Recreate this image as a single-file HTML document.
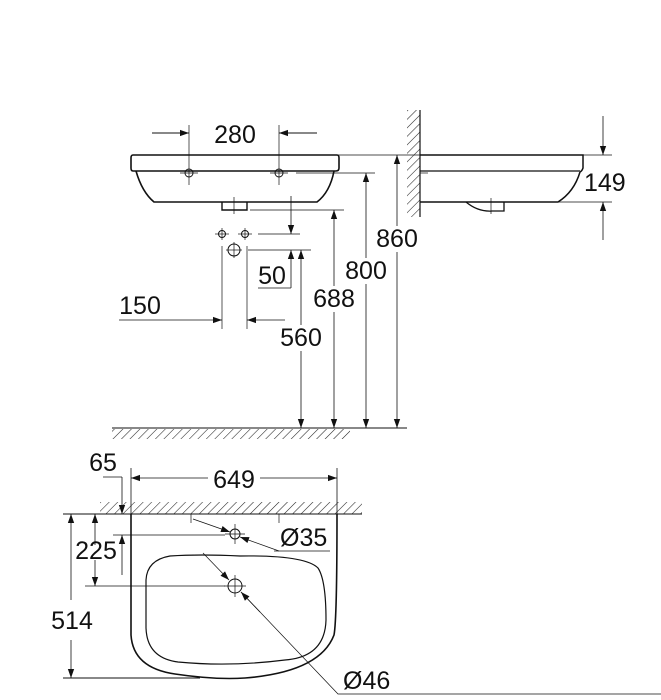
<!DOCTYPE html>
<html><head><style>
html,body{margin:0;padding:0;background:#fff;}
svg{display:block}
text{font-family:"Liberation Sans",sans-serif;fill:#111;}
</style></head><body>
<svg width="661" height="700" viewBox="0 0 661 700" xmlns="http://www.w3.org/2000/svg">
<defs>
<pattern id="h" width="6" height="6" patternUnits="userSpaceOnUse" patternTransform="rotate(45)">
<line x1="0" y1="0" x2="0" y2="6" stroke="#222" stroke-width="1.1"/>
</pattern>
<marker id="a" viewBox="0 0 10 10" refX="10" refY="5" markerWidth="16" markerHeight="9" markerUnits="userSpaceOnUse" orient="auto-start-reverse">
<path d="M0,1.5 L10,5 L0,8.5 z" fill="#111"/>
</marker>
</defs>
<g stroke="#111" fill="none" stroke-width="1">
<path d="M133,155 H337 Q339,155 339,158 V168 Q339,171 336,171 H133 Q131,171 131,168 V158 Q131,155 133,155 Z" stroke-width="1.6"/>
<path d="M136,171 Q142,192 154,202 H317 Q330,192 334,171" stroke-width="1.6"/>
<path d="M222,202 V210 H247 V202" stroke-width="1.4"/>
<line x1="234" y1="197" x2="234" y2="214" stroke-width="0.7"/>
<circle cx="189" cy="173" r="4"/><line x1="180" y1="173" x2="198" y2="173" stroke-width="0.7"/>
<circle cx="279" cy="173" r="4"/><line x1="270" y1="173" x2="288" y2="173" stroke-width="0.7"/>
<line x1="189" y1="125" x2="189" y2="185" stroke-width="0.7"/>
<line x1="279" y1="125" x2="279" y2="185" stroke-width="0.7"/>
<line x1="152" y1="133" x2="189" y2="133" marker-end="url(#a)"/>
<line x1="317" y1="133" x2="279" y2="133" marker-end="url(#a)"/>
<circle cx="222" cy="234" r="3.5"/><line x1="215" y1="234" x2="229" y2="234" stroke-width="0.7"/><line x1="222" y1="228" x2="222" y2="240" stroke-width="0.7"/>
<circle cx="245" cy="234" r="3.5"/><line x1="238" y1="234" x2="252" y2="234" stroke-width="0.7"/><line x1="245" y1="228" x2="245" y2="240" stroke-width="0.7"/>
<circle cx="234" cy="250" r="6"/><line x1="226" y1="250" x2="242" y2="250" stroke-width="0.7"/><line x1="234" y1="242" x2="234" y2="258" stroke-width="0.7"/>
<line x1="258" y1="234" x2="300" y2="234" stroke-width="0.8"/>
<line x1="248" y1="250" x2="311" y2="250" stroke-width="0.8"/>
<line x1="222" y1="246" x2="222" y2="329" stroke-width="0.7"/>
<line x1="247" y1="246" x2="247" y2="329" stroke-width="0.7"/>
<line x1="119" y1="320" x2="222" y2="320" stroke-width="0.8" marker-end="url(#a)"/>
<line x1="285" y1="320" x2="247" y2="320" stroke-width="0.8" marker-end="url(#a)"/>
<line x1="291" y1="196" x2="291" y2="234" stroke-width="0.8" marker-end="url(#a)"/>
<line x1="291" y1="288" x2="291" y2="250" stroke-width="0.8" marker-end="url(#a)"/>
<line x1="258" y1="288" x2="291" y2="288" stroke-width="0.8"/>
<line x1="301" y1="250" x2="301" y2="428" stroke-width="0.8" marker-start="url(#a)" marker-end="url(#a)"/>
<line x1="334" y1="210" x2="334" y2="428" stroke-width="0.8" marker-start="url(#a)" marker-end="url(#a)"/>
<line x1="250" y1="210" x2="344" y2="210" stroke-width="0.7"/>
<line x1="366" y1="173" x2="366" y2="428" stroke-width="0.8" marker-start="url(#a)" marker-end="url(#a)"/>
<line x1="296" y1="173" x2="375" y2="173" stroke-width="0.7"/>
<line x1="397" y1="155" x2="397" y2="428" stroke-width="0.8" marker-start="url(#a)" marker-end="url(#a)"/>
<line x1="338" y1="155" x2="612" y2="155" stroke-width="0.7"/>
<rect x="112" y="429" width="238" height="10" fill="url(#h)" stroke="none"/>
<line x1="112" y1="428" x2="407" y2="428" stroke-width="1"/>
<rect x="407" y="110" width="13" height="107" fill="url(#h)" stroke="none"/>
<line x1="420" y1="110" x2="420" y2="217" stroke-width="1.2"/>
<path d="M420,155 H583 V168 Q582,171 580,172" stroke-width="1.5"/>
<line x1="420" y1="171" x2="580" y2="171" stroke-width="1.2"/>
<path d="M580,172 Q574,192 558,202 H420" stroke-width="1.5"/>
<path d="M466,202 Q478,212 492,211 H504 V202" stroke-width="1.3"/>
<line x1="491" y1="198" x2="491" y2="214" stroke-width="0.7"/>
<line x1="420" y1="173" x2="428" y2="173" stroke-width="0.7"/>
<line x1="558" y1="202" x2="612" y2="202" stroke-width="0.7"/>
<line x1="603" y1="116" x2="603" y2="155" stroke-width="0.8" marker-end="url(#a)"/>
<line x1="603" y1="240" x2="603" y2="202" stroke-width="0.8" marker-end="url(#a)"/>
<rect x="100" y="502" width="262" height="12" fill="url(#h)" stroke="none"/>
<line x1="63" y1="514" x2="362" y2="514" stroke-width="1.1"/>
<line x1="131" y1="468" x2="131" y2="514" stroke-width="0.8"/>
<line x1="337" y1="468" x2="337" y2="514" stroke-width="0.8"/>
<line x1="234" y1="478" x2="131" y2="478" stroke-width="0.8" marker-end="url(#a)"/>
<line x1="234" y1="478" x2="337" y2="478" stroke-width="0.8" marker-end="url(#a)"/>
<rect x="208" y="466" width="52" height="22" fill="#fff" stroke="none"/>
<path d="M131,514 V635 Q133,668 175,674 Q215,680 245,678 Q320,672 334,635 Q337,620 337,514" stroke-width="1.6"/>
<path d="M170,556 Q147,560 146,580 V628 Q147,658 178,662 Q230,667 285,660 Q325,657 326,620 Q326,580 318,568 Q305,555 240,556 Q200,554 170,556 Z" stroke-width="1.2"/>
<line x1="191" y1="514" x2="191" y2="523" stroke-width="0.7"/>
<line x1="279" y1="514" x2="279" y2="523" stroke-width="0.7"/>
<circle cx="235" cy="534" r="5"/><line x1="225" y1="534" x2="245" y2="534" stroke-width="0.7"/><line x1="235" y1="524" x2="235" y2="544" stroke-width="0.7"/>
<circle cx="235" cy="586" r="7"/><line x1="224" y1="586" x2="246" y2="586" stroke-width="0.7"/><line x1="235" y1="575" x2="235" y2="597" stroke-width="0.7"/>
<line x1="103" y1="477" x2="122" y2="477" stroke-width="0.7"/>
<line x1="122" y1="477" x2="122" y2="514" stroke-width="0.8" marker-end="url(#a)"/>
<line x1="122" y1="575" x2="122" y2="535" stroke-width="0.8" marker-end="url(#a)"/>
<line x1="113" y1="535" x2="225" y2="535" stroke-width="0.8"/>
<line x1="95" y1="545" x2="95" y2="514" stroke-width="0.8" marker-end="url(#a)"/>
<line x1="95" y1="560" x2="95" y2="586" stroke-width="0.8" marker-end="url(#a)"/>
<line x1="85" y1="586" x2="225" y2="586" stroke-width="0.8"/>
<line x1="71" y1="600" x2="71" y2="514" stroke-width="0.8" marker-end="url(#a)"/>
<line x1="71" y1="640" x2="71" y2="678" stroke-width="0.8" marker-end="url(#a)"/>
<line x1="63" y1="678" x2="200" y2="678" stroke-width="1"/>
<line x1="193" y1="519" x2="230" y2="532" stroke-width="0.7" marker-end="url(#a)"/>
<polyline points="274,551 279,551 330,551" stroke-width="0.7"/>
<line x1="279" y1="551" x2="240" y2="537" stroke-width="0.7" marker-end="url(#a)"/>
<line x1="203" y1="553" x2="229" y2="580" stroke-width="0.7" marker-end="url(#a)"/>
<polyline points="241,592 338,694 661,694" stroke-width="0.7"/>
<line x1="260" y1="612" x2="241" y2="592" stroke-width="0.7" marker-end="url(#a)"/>
</g>
<g font-size="25">
<text x="235" y="143" text-anchor="middle">280</text>
<text x="140" y="314" text-anchor="middle">150</text>
<text x="272" y="284" text-anchor="middle">50</text>
<rect x="279" y="325" width="44" height="26" fill="#fff"/>
<text x="301" y="346" text-anchor="middle">560</text>
<rect x="311" y="286" width="46" height="26" fill="#fff"/>
<text x="334" y="307" text-anchor="middle">688</text>
<rect x="343" y="258" width="46" height="26" fill="#fff"/>
<text x="366" y="279" text-anchor="middle">800</text>
<rect x="374" y="226" width="46" height="26" fill="#fff"/>
<text x="397" y="247" text-anchor="middle">860</text>
<text x="584" y="191">149</text>
<text x="103" y="471" text-anchor="middle">65</text>
<text x="234" y="488" text-anchor="middle">649</text>
<text x="96" y="559" text-anchor="middle">225</text>
<text x="72" y="629" text-anchor="middle">514</text>
<text x="280" y="546">Ø35</text>
<text x="343" y="689">Ø46</text>
</g>
</svg>
</body></html>
